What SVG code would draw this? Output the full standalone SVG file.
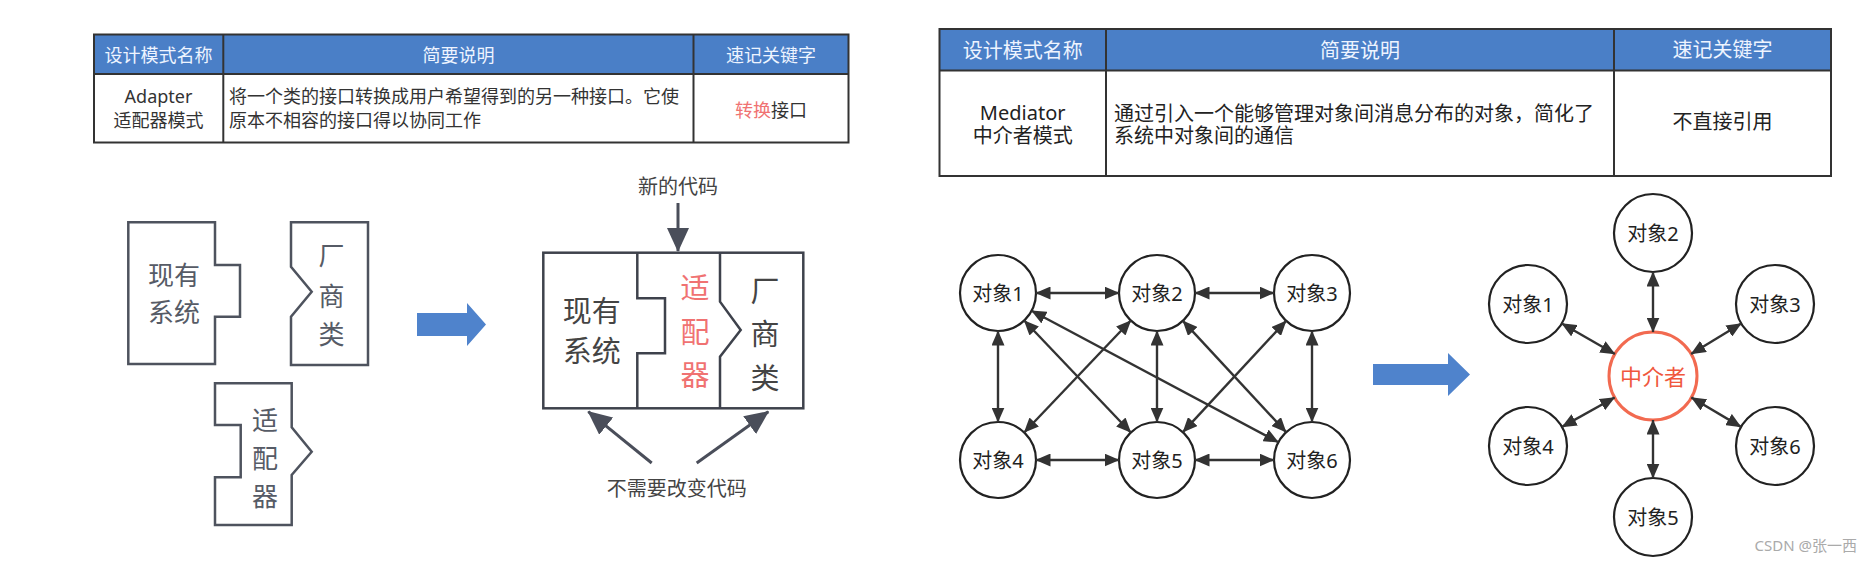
<svg xmlns="http://www.w3.org/2000/svg" width="1872" height="561" viewBox="0 0 1872 561">
<style>
text{font-family:"Noto Sans","Noto Sans CJK SC",sans-serif;}
.tb{fill:none;stroke:#333;stroke-width:2;}
.hd{fill:#4a7fc7;}
.ht{fill:#eef4ff;font-size:18px;text-anchor:middle;dominant-baseline:central;}
.ht2{fill:#eef4ff;font-size:20px;text-anchor:middle;dominant-baseline:central;}
.ct{fill:#333;font-size:18px;dominant-baseline:central;}
.ct2{fill:#222;font-size:20px;dominant-baseline:central;}
.blk{fill:#fff;stroke:#4e535e;stroke-width:2.5;stroke-linejoin:miter;}
.bt{fill:#565b66;font-size:26px;text-anchor:middle;dominant-baseline:central;}
.bt2{fill:#444;font-size:29px;text-anchor:middle;dominant-baseline:central;}
.red{fill:#f07272;}
.lbl{fill:#444;font-size:20px;text-anchor:middle;dominant-baseline:central;}
.node{fill:#fff;stroke:#222;stroke-width:2.2;}
.nt{fill:#222;font-size:20px;text-anchor:middle;dominant-baseline:central;}
.edge{stroke:#333;stroke-width:2.4;fill:none;marker-start:url(#ah);marker-end:url(#ah);}
.big{stroke:#4a4e5a;stroke-width:3;fill:none;marker-end:url(#bh);}
.blue{fill:#4f83cc;}
</style>
<defs>
<marker id="ah" viewBox="0 0 15 13" refX="14.5" refY="6.5" markerWidth="15" markerHeight="13" markerUnits="userSpaceOnUse" orient="auto-start-reverse">
<path d="M0,0 L15,6.5 L0,13 z" fill="#333"/>
</marker>
<marker id="bh" viewBox="0 0 24 22" refX="23" refY="11" markerWidth="24" markerHeight="22" markerUnits="userSpaceOnUse" orient="auto">
<path d="M0,0 L24,11 L0,22 z" fill="#4a4e5a"/>
</marker>
</defs>

<g id="table-adapter">
<rect class="hd" x="94" y="34.5" width="754.5" height="39.5"/>
<rect class="tb" x="94" y="34.5" width="754.5" height="108"/>
<line class="tb" x1="94" y1="74" x2="848.5" y2="74"/>
<line class="tb" x1="223.3" y1="34.5" x2="223.3" y2="142.5"/>
<line class="tb" x1="693.5" y1="34.5" x2="693.5" y2="142.5"/>
<text class="ht" x="158.5" y="54.5">设计模式名称</text>
<text class="ht" x="458.5" y="54.5">简要说明</text>
<text class="ht" x="771" y="54.5">速记关键字</text>
<text class="ct" x="158.5" y="96" text-anchor="middle">Adapter</text>
<text class="ct" x="158.5" y="119.5" text-anchor="middle">适配器模式</text>
<text class="ct" x="229" y="96">将一个类的接口转换成用户希望得到的另一种接口。它使</text>
<text class="ct" x="229" y="119.5">原本不相容的接口得以协同工作</text>
<text class="ct" x="771" y="110" text-anchor="middle"><tspan class="red">转换</tspan>接口</text>
</g>

<g id="table-mediator">
<rect class="hd" x="939.5" y="29" width="891.5" height="41.5"/>
<rect class="tb" x="939.5" y="29" width="891.5" height="147"/>
<line class="tb" x1="939.5" y1="70.5" x2="1831" y2="70.5"/>
<line class="tb" x1="1106" y1="29" x2="1106" y2="176"/>
<line class="tb" x1="1614" y1="29" x2="1614" y2="176"/>
<text class="ht2" x="1022.7" y="50">设计模式名称</text>
<text class="ht2" x="1360" y="50">简要说明</text>
<text class="ht2" x="1722.5" y="49">速记关键字</text>
<text class="ct2" x="1022.7" y="112" text-anchor="middle">Mediator</text>
<text class="ct2" x="1022.7" y="135" text-anchor="middle">中介者模式</text>
<text class="ct2" x="1114" y="113">通过引入一个能够管理对象间消息分布的对象，简化了</text>
<text class="ct2" x="1114" y="135.5">系统中对象间的通信</text>
<text class="ct2" x="1722.5" y="121.5" text-anchor="middle">不直接引用</text>
</g>

<g id="block-existing">
<path class="blk" d="M128.3,222.3 H215 V265 H240 V316.7 H215 V364 H128.3 Z"/>
<text class="bt" x="174" y="275">现有</text>
<text class="bt" x="174" y="311.5">系统</text>
</g>
<g id="block-vendor">
<path class="blk" d="M291,222.3 H368 V365 H291 V316.7 L311.7,291.7 L291,266.7 Z"/>
<text class="bt" x="331.5" y="255">厂</text>
<text class="bt" x="331.5" y="296">商</text>
<text class="bt" x="331.5" y="334">类</text>
</g>
<g id="block-adapter">
<path class="blk" d="M215,383.3 H291.7 V427.3 L311.7,451.7 L291.7,475 V525 H215 V477.3 H240.7 V425 H215 Z"/>
<text class="bt" x="265" y="420">适</text>
<text class="bt" x="265" y="458">配</text>
<text class="bt" x="265" y="496">器</text>
</g>

<g id="arrow-blue-1">
<polygon class="blue" points="417,313 467,313 467,303 486,324.5 467,346 467,336 417,336"/>
</g>

<g id="adapter-combined">
<rect class="blk" x="543.3" y="252.7" width="260" height="155.6" style="stroke:#3e424c"/>
<path class="blk" style="fill:none;stroke:#3e424c" d="M637.3,252.7 V298.3 H665 V353.3 H637.3 V408.3"/>
<path class="blk" style="fill:none;stroke:#3e424c" d="M720,252.7 V301.7 L740.7,330 L720,356.7 V408.3"/>
<text class="bt2" x="591.7" y="310">现有</text>
<text class="bt2" x="591.7" y="350">系统</text>
<text class="bt2 red" x="695" y="287">适</text>
<text class="bt2 red" x="695" y="331">配</text>
<text class="bt2 red" x="695" y="374">器</text>
<text class="bt2" x="765" y="290">厂</text>
<text class="bt2" x="765" y="333">商</text>
<text class="bt2" x="765" y="377">类</text>
</g>
<g id="label-new-code">
<text class="lbl" x="678" y="186.5">新的代码</text>
</g>
<g id="label-no-change">
<text class="lbl" x="676.7" y="488">不需要改变代码</text>
</g>

<g id="connectors-adapter">
<line class="big" x1="678" y1="203" x2="678" y2="251"/>
<line class="big" x1="651.7" y1="463" x2="588.3" y2="411.7"/>
<line class="big" x1="696.7" y1="463" x2="768.3" y2="411.7"/>
</g>

<g id="obj1"><circle class="node" cx="998" cy="293" r="38"/><text class="nt" x="998" y="293">对象1</text></g>
<g id="obj2"><circle class="node" cx="1157" cy="293" r="38"/><text class="nt" x="1157" y="293">对象2</text></g>
<g id="obj3"><circle class="node" cx="1312" cy="293" r="38"/><text class="nt" x="1312" y="293">对象3</text></g>
<g id="obj4"><circle class="node" cx="998" cy="460" r="38"/><text class="nt" x="998" y="460">对象4</text></g>
<g id="obj5"><circle class="node" cx="1157" cy="460" r="38"/><text class="nt" x="1157" y="460">对象5</text></g>
<g id="obj6"><circle class="node" cx="1312" cy="460" r="38"/><text class="nt" x="1312" y="460">对象6</text></g>

<g id="connectors-mesh">
<line class="edge" x1="1036" y1="293" x2="1119" y2="293"/>
<line class="edge" x1="1195" y1="293" x2="1274" y2="293"/>
<line class="edge" x1="1036" y1="460" x2="1119" y2="460"/>
<line class="edge" x1="1195" y1="460" x2="1274" y2="460"/>
<line class="edge" x1="998" y1="331" x2="998" y2="422"/>
<line class="edge" x1="1157" y1="331" x2="1157" y2="422"/>
<line class="edge" x1="1312" y1="331" x2="1312" y2="422"/>
<line class="edge" x1="1024.2" y1="320.5" x2="1130.8" y2="432.5"/>
<line class="edge" x1="1130.8" y1="320.5" x2="1024.2" y2="432.5"/>
<line class="edge" x1="1182.9" y1="320.9" x2="1286.1" y2="432.1"/>
<line class="edge" x1="1286.1" y1="320.9" x2="1182.9" y2="432.1"/>
<line class="edge" x1="1031.6" y1="310.8" x2="1278.4" y2="442.2"/>
</g>

<g id="arrow-blue-2">
<polygon class="blue" points="1373,364 1448,364 1448,353 1470,374.5 1448,396 1448,385 1373,385"/>
</g>

<g id="mediator"><circle cx="1653" cy="376" r="44" fill="#fff" stroke="#f26a50" stroke-width="3"/><text x="1653" y="376" fill="#f0573d" font-size="22" text-anchor="middle" dominant-baseline="central">中介者</text></g>
<g id="m-obj1"><circle class="node" cx="1528" cy="304" r="39"/><text class="nt" x="1528" y="304">对象1</text></g>
<g id="m-obj2"><circle class="node" cx="1653" cy="233" r="39"/><text class="nt" x="1653" y="233">对象2</text></g>
<g id="m-obj3"><circle class="node" cx="1775" cy="304" r="39"/><text class="nt" x="1775" y="304">对象3</text></g>
<g id="m-obj4"><circle class="node" cx="1528" cy="446" r="39"/><text class="nt" x="1528" y="446">对象4</text></g>
<g id="m-obj5"><circle class="node" cx="1653" cy="517" r="39"/><text class="nt" x="1653" y="517">对象5</text></g>
<g id="m-obj6"><circle class="node" cx="1775" cy="446" r="39"/><text class="nt" x="1775" y="446">对象6</text></g>

<g id="connectors-mediator">
<line class="edge" x1="1653" y1="272" x2="1653" y2="332"/>
<line class="edge" x1="1653" y1="420" x2="1653" y2="478"/>
<line class="edge" x1="1561.8" y1="323.5" x2="1614.9" y2="354"/>
<line class="edge" x1="1741.2" y1="323.5" x2="1691.1" y2="354"/>
<line class="edge" x1="1562" y1="426.9" x2="1614.6" y2="397.5"/>
<line class="edge" x1="1741" y1="426.9" x2="1691.4" y2="397.5"/>
</g>

<text x="1857" y="545" fill="#aaa" font-size="15" text-anchor="end" dominant-baseline="central">CSDN @张一西</text>
</svg>
